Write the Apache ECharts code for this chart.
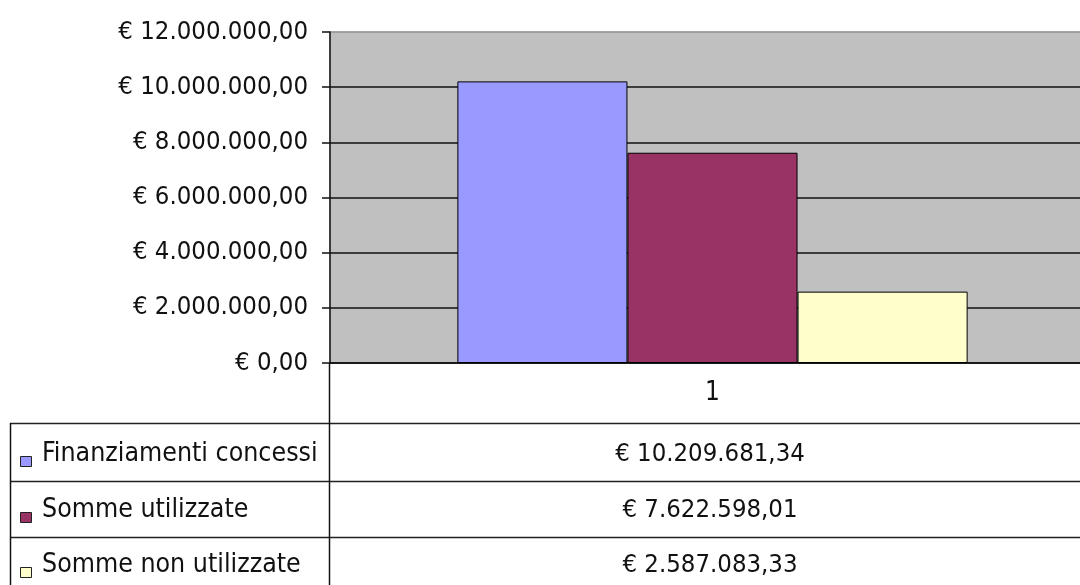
<!DOCTYPE html>
<html>
<head>
<meta charset="utf-8">
<script src="https://cdn.jsdelivr.net/npm/echarts@6/dist/echarts.min.js"></script>
<style>
  html, body { margin: 0; padding: 0; background: #fff; }
  #chart { width: 1080px; height: 585px; }
</style>
</head>
<body>
<div id="chart"></div>
<script>
// dati del grafico
const categories = ['1'];
const seriesNames = ['Finanziamenti concessi', 'Somme utilizzate', 'Somme non utilizzate'];
const seriesValues = [10209681.34, 7622598.01, 2587083.33];
const yTicks = [0, 2000000, 4000000, 6000000, 8000000, 10000000, 12000000];

const colors = ['#9999ff', '#993366', '#ffffcc'];
const FONT = "'DejaVu Sans Condensed', 'Liberation Sans Narrow', sans-serif";

function fmtEuro(v) {
  const parts = v.toFixed(2).split('.');
  return '€ ' + parts[0].replace(/\B(?=(\d{3})+(?!\d))/g, '.') + ',' + parts[1];
}

const chart = echarts.init(document.getElementById('chart'), null, { renderer: 'canvas' });

const series = seriesNames.map((name, i) => ({
  name: name,
  type: 'bar',
  data: [seriesValues[i]],
  barGap: '0%',
  barCategoryGap: '33.3%',
  itemStyle: { color: colors[i], borderColor: '#000', borderWidth: 1 },
}));

// tabella dati sotto il grafico
const rowTops = [423, 481, 537];
const rowText = [454, 510, 565];
const colX = 330;
const valX = 710;
const graphic = [];
rowTops.forEach(y => {
  graphic.push({ type: 'line', shape: { x1: 10, y1: y + 0.5, x2: 1080, y2: y + 0.5 }, style: { stroke: '#222', lineWidth: 1.5 } });
});
graphic.push({ type: 'line', shape: { x1: colX - 0.5, y1: 363, x2: colX - 0.5, y2: 585 }, style: { stroke: '#111', lineWidth: 1.5 } });
graphic.push({ type: 'line', shape: { x1: 10.5, y1: 423, x2: 10.5, y2: 585 }, style: { stroke: '#111', lineWidth: 1.5 } });
seriesNames.forEach((name, i) => {
  graphic.push({
    type: 'rect', shape: { x: 20.5, y: rowText[i] + 2.5, width: 11, height: 10 },
    style: { fill: colors[i], stroke: '#222', lineWidth: 1 },
  });
  graphic.push({
    type: 'text', x: 42, y: rowText[i],
    style: { text: name, font: '26.5px ' + FONT, fill: '#111', verticalAlign: 'middle', align: 'left' },
  });
  graphic.push({
    type: 'text', x: valX, y: rowText[i],
    style: { text: fmtEuro(seriesValues[i]), font: '25.5px ' + FONT, fill: '#111', verticalAlign: 'middle', align: 'center' },
  });
});

chart.setOption({
  animation: false,
  backgroundColor: '#fff',
  grid: {
    left: 330, top: 32, width: 765, height: 331,
    outerBoundsMode: 'none',
    show: true, backgroundColor: '#c0c0c0', borderColor: '#999', borderWidth: 1,
  },
  xAxis: {
    type: 'category',
    data: categories,
    axisLine: { show: true, lineStyle: { color: '#111', width: 1.5 } },
    axisTick: { show: false },
    axisLabel: { margin: 17, color: '#111', fontFamily: FONT, fontSize: 26 },
    splitLine: { show: false },
  },
  yAxis: {
    type: 'value',
    min: yTicks[0],
    max: yTicks[yTicks.length - 1],
    interval: yTicks[1] - yTicks[0],
    axisLine: { show: true, lineStyle: { color: '#111', width: 1.5 } },
    axisTick: { show: true, inside: false, length: 8, lineStyle: { color: '#111', width: 1.5 } },
    axisLabel: {
      margin: 22, color: '#111', fontFamily: FONT, fontSize: 25.5,
      formatter: v => fmtEuro(v),
    },
    splitLine: {
      show: true,
      lineStyle: { color: ['#111', '#111', '#111', '#111', '#111', '#111', '#999'], width: 1.5 },
    },
  },
  series: series,
  graphic: graphic,
});
</script>
</body>
</html>
